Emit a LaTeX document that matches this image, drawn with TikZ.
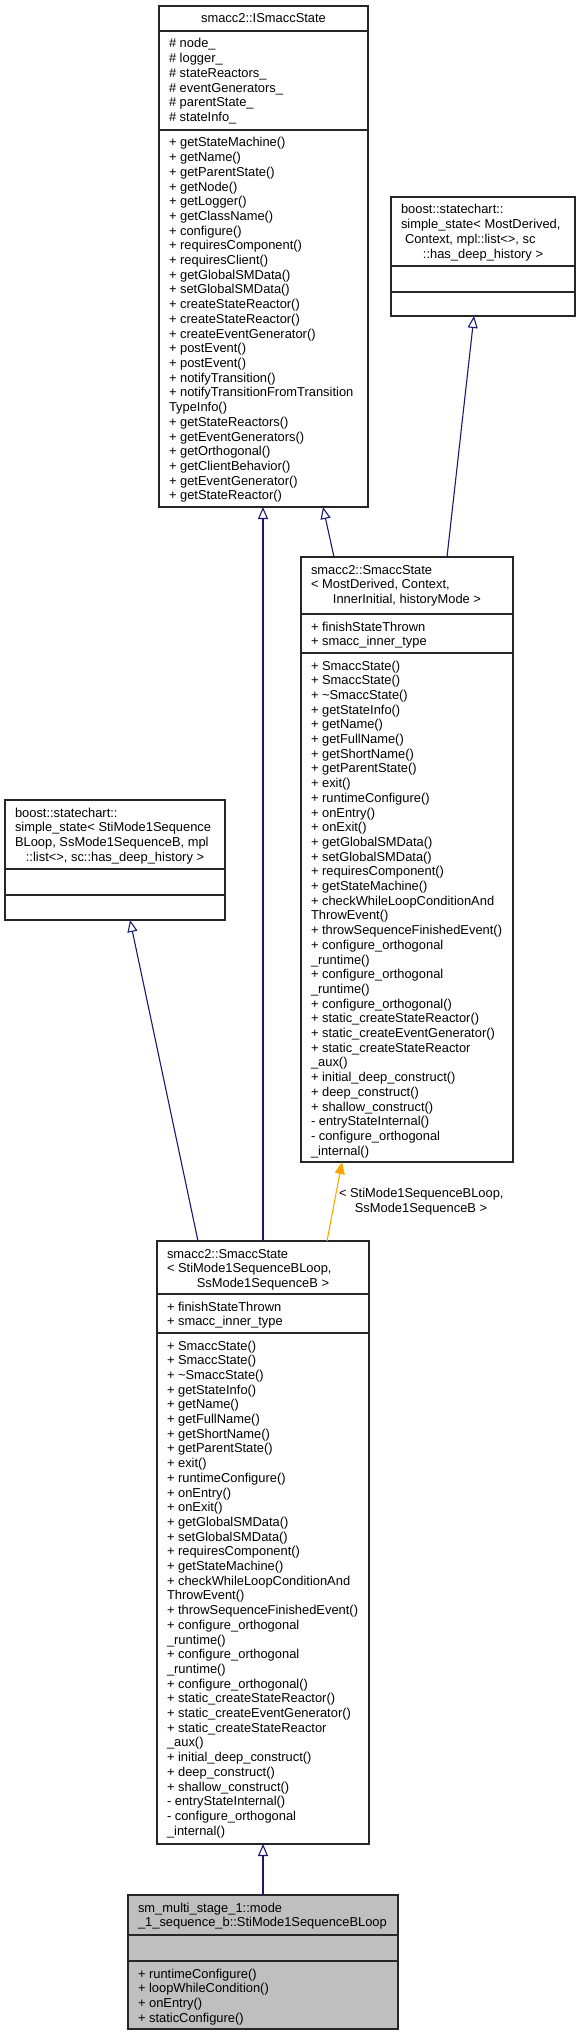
\documentclass[tikz,border=0pt]{standalone}
\usepackage{fontspec}
\setmainfont{Liberation Sans}
\usetikzlibrary{arrows.meta}
\definecolor{navyc}{HTML}{191970}
\definecolor{orangec}{HTML}{FFA500}
\definecolor{grayfill}{HTML}{BFBFBF}
\newcommand\umltext[4]{%
  \foreach \mytxt [count=\myi from 0] in {#4} {\node[txt] (#1\myi) at (#2,{#3+\myi*14.7}) {\mytxt};}}
\begin{document}
\begin{tikzpicture}[x=1pt,y=-1pt,
  box/.style={draw=black!85, line width=1.2pt, anchor=north west, inner sep=0pt, outer sep=0pt},
  divl/.style={draw=black!85, line width=1.2pt},
  txt/.style={anchor=base west, inner sep=0pt, outer sep=0pt, font=\fontsize{12.9}{14.7}\selectfont},
  ctxt/.style={txt, anchor=base},
  inh/.style={draw=navyc, line width=1.1pt, -{Triangle[open,length=12pt,width=10pt]}},
  tmpl/.style={draw=orangec, line width=1.1pt, -{Triangle[length=12pt,width=10pt]}}]

\useasboundingbox (0,0) rectangle (581,2036);

% ---------------- smacc2::ISmaccState
\node[box, minimum width=209pt, minimum height=501pt] (ism) at (159,6) {};
\draw[divl] (159,31) -- (368,31);
\draw[divl] (159,130) -- (368,130);
\node[ctxt] (ismh) at (263.5,23) {smacc2::ISmaccState};
\umltext{isma}{169}{48}{\# node\_, \# logger\_, \# stateReactors\_, \# eventGenerators\_, \# parentState\_, \# stateInfo\_}
\umltext{ismm}{169}{147}{+ getStateMachine(), + getName(), + getParentState(), + getNode(), + getLogger(), + getClassName(), + configure(), + requiresComponent(), + requiresClient(), + getGlobalSMData(), + setGlobalSMData(), + createStateReactor(), + createStateReactor(), + createEventGenerator(), + postEvent(), + postEvent(), + notifyTransition(), + notifyTransitionFromTransition, TypeInfo(), + getStateReactors(), + getEventGenerators(), + getOrthogonal(), + getClientBehavior(), + getEventGenerator(), + getStateReactor()}

% ---------------- boost simple_state (generic)
\node[box, minimum width=184pt, minimum height=119pt] (bsr) at (391,197) {};
\draw[divl] (391,266) -- (575,266);
\draw[divl] (391,292) -- (575,292);
\node[txt] (bsrh0) at (401,214) {boost::statechart::};
\node[txt] (bsrh1) at (401,228.7) {simple\_state< MostDerived,};
\node[txt] (bsrh2) at (405,243.4) {Context, mpl::list<>, sc};
\node[ctxt] (bsrh3) at (483,258.1) {::has\_deep\_history >};

% ---------------- smacc2::SmaccState (generic)
\node[box, minimum width=212pt, minimum height=605pt] (gen) at (301,557) {};
\draw[divl] (301,614) -- (513,614);
\draw[divl] (301,653) -- (513,653);
\node[txt] (genh0) at (311,574) {smacc2::SmaccState};
\node[txt] (genh1) at (311,588.7) {< MostDerived, Context,};
\node[ctxt] (genh2) at (407,603.4) {InnerInitial, historyMode >};
\umltext{gena}{311}{631}{+ finishStateThrown, + smacc\_inner\_type}
\umltext{genm}{311}{670}{+ SmaccState(), + SmaccState(), + \textasciitilde SmaccState(), + getStateInfo(), + getName(), + getFullName(), + getShortName(), + getParentState(), + exit(), + runtimeConfigure(), + onEntry(), + onExit(), + getGlobalSMData(), + setGlobalSMData(), + requiresComponent(), + getStateMachine(), + checkWhileLoopConditionAnd, ThrowEvent(), + throwSequenceFinishedEvent(), + configure\_orthogonal, \_runtime(), + configure\_orthogonal, \_runtime(), + configure\_orthogonal(), + static\_createStateReactor(), + static\_createEventGenerator(), + static\_createStateReactor, \_aux(), + initial\_deep\_construct(), + deep\_construct(), + shallow\_construct(), - entryStateInternal(), - configure\_orthogonal, \_internal()}

% ---------------- boost simple_state (specific)
\node[box, minimum width=220pt, minimum height=120pt] (bsl) at (5,800) {};
\draw[divl] (5,869) -- (225,869);
\draw[divl] (5,895) -- (225,895);
\node[txt] (bslh0) at (15,817) {boost::statechart::};
\node[txt] (bslh1) at (15,831.7) {simple\_state< StiMode1Sequence};
\node[txt] (bslh2) at (15,846.4) {BLoop, SsMode1SequenceB, mpl};
\node[ctxt] (bslh3) at (115,861.1) {::list<>, sc::has\_deep\_history >};

% ---------------- smacc2::SmaccState (specific)
\node[box, minimum width=212pt, minimum height=603pt] (spc) at (157,1241) {};
\draw[divl] (157,1294) -- (369,1294);
\draw[divl] (157,1333) -- (369,1333);
\node[txt] (spch0) at (167,1258) {smacc2::SmaccState};
\node[txt] (spch1) at (167,1272.7) {< StiMode1SequenceBLoop,};
\node[ctxt] (spch2) at (263,1287.4) {SsMode1SequenceB >};
\umltext{spca}{167}{1311}{+ finishStateThrown, + smacc\_inner\_type}
\umltext{spcm}{167}{1350}{+ SmaccState(), + SmaccState(), + \textasciitilde SmaccState(), + getStateInfo(), + getName(), + getFullName(), + getShortName(), + getParentState(), + exit(), + runtimeConfigure(), + onEntry(), + onExit(), + getGlobalSMData(), + setGlobalSMData(), + requiresComponent(), + getStateMachine(), + checkWhileLoopConditionAnd, ThrowEvent(), + throwSequenceFinishedEvent(), + configure\_orthogonal, \_runtime(), + configure\_orthogonal, \_runtime(), + configure\_orthogonal(), + static\_createStateReactor(), + static\_createEventGenerator(), + static\_createStateReactor, \_aux(), + initial\_deep\_construct(), + deep\_construct(), + shallow\_construct(), - entryStateInternal(), - configure\_orthogonal, \_internal()}

% ---------------- StiMode1SequenceBLoop
\node[box, fill=grayfill, minimum width=270pt, minimum height=134pt] (fin) at (128,1895) {};
\draw[divl] (128,1935) -- (398,1935);
\draw[divl] (128,1961) -- (398,1961);
\node[txt] (finh0) at (138,1912) {sm\_multi\_stage\_1::mode};
\node[txt] (finh1) at (138,1926.7) {\_1\_sequence\_b::StiMode1SequenceBLoop};
\umltext{finm}{138}{1978}{+ runtimeConfigure(), + loopWhileCondition(), + onEntry(), + staticConfigure()}

% ---------------- connectors
\coordinate (genTop1) at (334,557);
\coordinate (ismBot1) at (323,507);
\coordinate (spcTop1) at (263,1241);
\coordinate (ismBot2) at (263,507);
\coordinate (genTop2) at (447,557);
\coordinate (bsrBot) at (474,316);
\coordinate (spcTop2) at (198,1241);
\coordinate (bslBot) at (130,920);
\coordinate (spcTop3) at (327,1241);
\coordinate (genBot) at (342,1162);
\coordinate (finTop) at (263,1895);
\coordinate (spcBot) at (263,1844);

\draw[inh] (genTop1) -- (ismBot1);
\draw[inh] (spcTop1) -- (ismBot2);
\draw[inh] (genTop2) -- (bsrBot);
\draw[inh] (spcTop2) -- (bslBot);
\draw[tmpl] (spcTop3) -- (genBot);
\draw[inh] (finTop) -- (spcBot);

\node[txt] (lbl0) at (339,1197) {< StiMode1SequenceBLoop,};
\node[ctxt] (lbl1) at (421,1212) {SsMode1SequenceB >};
\end{tikzpicture}
\end{document}
